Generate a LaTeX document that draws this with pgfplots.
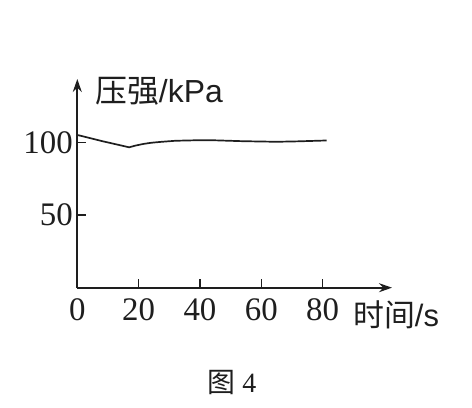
\documentclass[border=0pt]{standalone}
\usepackage{fontspec}
\setmainfont{Liberation Serif}
\newfontfamily\cjk{Noto Sans CJK SC}
\newfontfamily\lsans{Liberation Sans}
\usepackage{pgfplots}
\pgfplotsset{compat=1.18}
\usetikzlibrary{arrows.meta}
\definecolor{ink}{HTML}{1E1E1E}
\begin{document}
\begin{tikzpicture}
\useasboundingbox (-77.3bp,-120.3bp) rectangle (394.7bp,287.7bp);
\begin{axis}[
  scale only axis, width=314.7bp, height=208.7bp,
  at={(0,0)}, anchor=origin,
  xmin=0, xmax=102.6, ymin=0, ymax=143.6,
  axis lines=left,
  axis line style={ink, line width=1.6bp, -{Stealth[length=13bp,width=9bp]}},
  xtick={0,20,40,60,80}, ytick={50,100},
  tick align=inside, major tick length=9bp,
  tick style={ink, line width=1.5bp},
  /pgf/number format/assume math mode=true,
  ticklabel style={font=\fontsize{33}{33}\selectfont, text=ink},
  xticklabel style={yshift=-7bp},
  yticklabel style={xshift=-1bp},
  clip=false,
]
\addplot[ink, line width=1.7bp, no markers] coordinates {
(0,105.1) (8,100.9) (16.9,96.6) (19,97.8) (21.5,98.9) (24,99.7) (27,100.3)
(32,101.1) (38,101.4) (45,101.4) (54,100.8) (65,100.4) (72,100.7) (81.3,101.3)
};
\end{axis}
\node[anchor=west, inner sep=0, text=ink] at (17.7bp,196bp) {\fontsize{32}{32}\selectfont\cjk 压强\lsans/kPa};
\node[anchor=west, inner sep=0, text=ink] at (275.7bp,-27.3bp) {\fontsize{31}{31}\selectfont\cjk 时间\lsans/s};
\node[inner sep=0, text=ink] at (154.7bp,-95.3bp) {\fontsize{28}{28}\selectfont{\cjk 图}\ 4};
\end{tikzpicture}
\end{document}
